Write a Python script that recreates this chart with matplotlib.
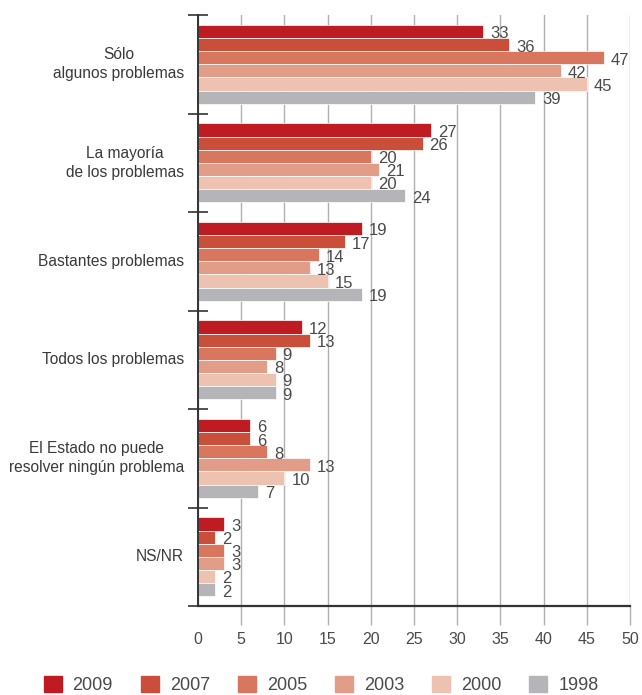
import numpy as np
import matplotlib.pyplot as plt
import matplotlib.transforms as mtransforms

plt.rcParams['font.family'] = ['Liberation Sans', 'DejaVu Sans']

categories = ['Sólo\nalgunos problemas', 'La mayoría\nde los problemas', 'Bastantes problemas',
              'Todos los problemas', 'El Estado no puede\nresolver ningún problema', 'NS/NR']
years = ['2009', '2007', '2005', '2003', '2000', '1998']
v2009 = [33, 27, 19, 12, 6, 3]
v2007 = [36, 26, 17, 13, 6, 2]
v2005 = [47, 20, 14, 9, 8, 3]
v2003 = [42, 21, 13, 8, 13, 3]
v2000 = [45, 20, 15, 9, 10, 2]
v1998 = [39, 24, 19, 9, 7, 2]
series = [v2009, v2007, v2005, v2003, v2000, v1998]
colors = ['#be1c22', '#c94f3b', '#d8765e', '#e29d88', '#eec2b0', '#b5b5b9']

fig = plt.figure(figsize=(6.42, 6.95), dpi=100)
ax = fig.add_axes([0.3084, 0.128, 0.6729, 0.8504])

n = len(series)
bar_h = 0.8 / n
pos = np.arange(len(categories))
for j, (vals, col) in enumerate(zip(series, colors)):
    y = pos - 0.4 + bar_h * (j + 0.5)
    ax.barh(y, vals, height=bar_h, color=col, edgecolor='white', linewidth=0.5, zorder=3)
    for yy, v in zip(y, vals):
        ax.text(v + 0.8, yy + 0.025, str(v), va='center', ha='left', fontsize=12,
                color='#4a4a4a', zorder=4)

ax.set_xlim(0, 50)
ax.set_ylim(len(categories) - 0.5, -0.5)

# vertical guides every 5 units, running past the axis line
ax.set_xticks(np.arange(0, 51, 5))
ax.grid(axis='x', color='#b0b0b0', linewidth=1.0, zorder=0)
ax.tick_params(axis='x', length=14, width=1.0, color='#b0b0b0', labelsize=11.5,
               labelcolor='#4a4a4a', pad=5)
ax.get_xticklines()[0].set_visible(False)

# group separators on the vertical axis
ax.set_yticks(np.arange(-0.5, len(categories), 1.0))
ax.set_yticklabels([])
ax.tick_params(axis='y', direction='inout', length=14, width=1.2, color='#333333')

for s in ['top', 'right']:
    ax.spines[s].set_visible(False)
ax.spines['left'].set_color('#333333')
ax.spines['left'].set_linewidth(1.4)
ax.spines['bottom'].set_color('#333333')
ax.spines['bottom'].set_linewidth(1.6)
ax.spines['left'].set_zorder(5)

trans = mtransforms.blended_transform_factory(fig.transFigure, ax.transData)
for i, cat in enumerate(categories):
    fig.text(184 / 642, i, cat, transform=trans, ha='right', va='center', multialignment='center',
             fontsize=11.2, color='#3a3a3a', linespacing=1.35)

handles = [plt.Rectangle((0, 0), 1, 1, color=c) for c in colors]
fig.legend(handles, years, loc='upper center', bbox_to_anchor=(0.5, 0.033), ncol=6,
           frameon=False, handlelength=1.0, handleheight=1.0, handletextpad=0.6,
           columnspacing=1.55, labelcolor='#4a4a4a', borderaxespad=0, borderpad=0.2,
           prop={'size': 13})

fig.savefig('out.png', dpi=100)
